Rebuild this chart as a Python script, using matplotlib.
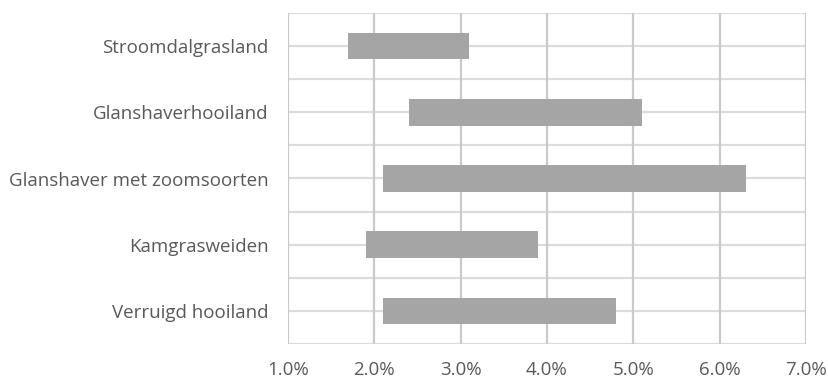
import numpy as np
import matplotlib.pyplot as plt
from matplotlib.ticker import FuncFormatter

# Habitat types (top to bottom) and their ranges (percent)
categories = ['Stroomdalgrasland', 'Glanshaverhooiland', 'Glanshaver met zoomsoorten',
              'Kamgrasweiden', 'Verruigd hooiland']
low = [1.7, 2.4, 2.1, 1.9, 2.1]
high = [3.1, 5.1, 6.3, 3.9, 4.8]

text_color = '#595959'
vgrid_color = '#cacaca'
hgrid_color = '#dcdcdc'
bar_color = '#a5a5a5'

plt.rcParams['font.family'] = ['Open Sans', 'DejaVu Sans']

fig = plt.figure(figsize=(8.29, 3.79), dpi=100)
ax = fig.add_axes([288/829, 1 - 344/379, (806 - 288)/829, (344 - 13)/379])

n = len(categories)
y = np.arange(n)[::-1]
widths = np.array(high) - np.array(low)
ax.barh(y, widths, left=low, height=0.4, color=bar_color, zorder=3)

ax.set_xlim(1.0, 7.0)
ax.set_ylim(-0.5, n - 0.5)
ax.set_xticks(np.arange(1.0, 7.01, 1.0))
ax.xaxis.set_major_formatter(FuncFormatter(lambda v, p: f'{v:.1f}%'))
ax.set_yticks(y)
ax.set_yticklabels(categories)

# grid lines: vertical at each percent, horizontal at centres and boundaries
for yv in np.arange(-0.5, n, 0.5):
    ax.axhline(yv, color=hgrid_color, lw=1.6, zorder=1)
for xv in np.arange(1.0, 7.01, 1.0):
    ax.axvline(xv, color=vgrid_color, lw=1.6, zorder=2)

for s in ax.spines.values():
    s.set_visible(False)

ax.tick_params(axis='both', length=0, colors=text_color, labelsize=13.5)
ax.tick_params(axis='y', pad=14)
ax.tick_params(axis='x', pad=12)

fig.savefig('out.png', dpi=100)
